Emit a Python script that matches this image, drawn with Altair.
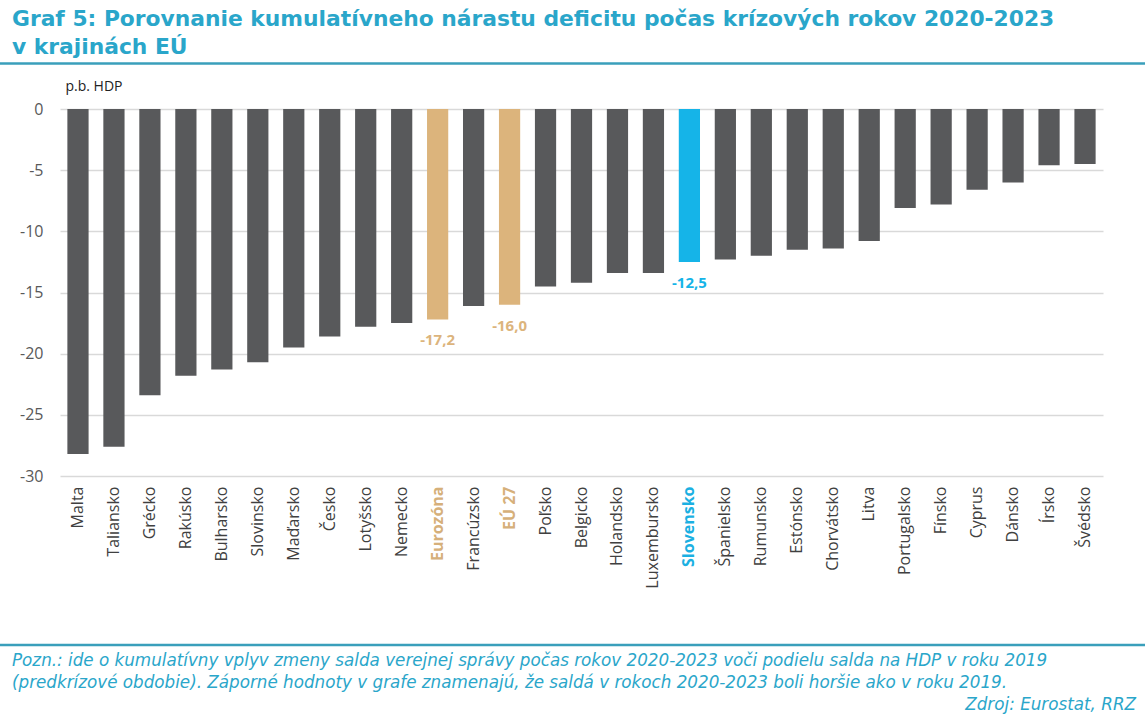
import altair as alt
import pandas as pd

countries = ["Malta", "Taliansko", "Grécko", "Rakúsko", "Bulharsko", "Slovinsko",
             "Maďarsko", "Česko", "Lotyšsko", "Nemecko", "Eurozóna", "Francúzsko",
             "EÚ 27", "Poľsko", "Belgicko", "Holandsko", "Luxembursko", "Slovensko",
             "Španielsko", "Rumunsko", "Estónsko", "Chorvátsko", "Litva", "Portugalsko",
             "Fínsko", "Cyprus", "Dánsko", "Írsko", "Švédsko"]
values = [-28.2, -27.6, -23.4, -21.8, -21.3, -20.7,
          -19.5, -18.6, -17.8, -17.5, -17.2, -16.1,
          -16.0, -14.5, -14.2, -13.4, -13.4, -12.5,
          -12.3, -12.0, -11.5, -11.4, -10.8, -8.1,
          -7.8, -6.6, -6.0, -4.6, -4.5]
groups = ["base"] * 10 + ["eu", "base", "eu"] + ["base"] * 4 + ["sk"] + ["base"] * 11
y_ticks = [0, -5, -10, -15, -20, -25, -30]

title_lines = ["Graf 5: Porovnanie kumulatívneho nárastu deficitu počas krízových rokov 2020-2023",
               "v krajinách EÚ"]
note_lines = ["Pozn.: ide o kumulatívny vplyv zmeny salda verejnej správy počas rokov 2020-2023 voči podielu salda na HDP v roku 2019",
              "(predkrízové obdobie). Záporné hodnoty v grafe znamenajú, že saldá v rokoch 2020-2023 boli horšie ako v roku 2019."]
source_text = "Zdroj: Eurostat, RRZ"
unit_text = "p.b. HDP"

df = pd.DataFrame({"krajina": countries, "hodnota": values, "skupina": groups})
df["popis"] = [f"{v:.1f}".replace(".", ",") for v in values]

W, H = 1043, 367
L, T = 60, 109
TEAL = "#2aa6ca"
RULE = "#3a9fbb"

color_scale = alt.Scale(domain=["base", "eu", "sk"], range=["#58595b", "#dcb47c", "#15b4e8"])

color_expr = ("datum.value == 'Slovensko' ? '#1bb0e2' : "
              "(datum.value == 'Eurozóna' || datum.value == 'EÚ 27') ? '#d6b07a' : '#404040'")
weight_expr = ("(datum.value == 'Slovensko' || datum.value == 'Eurozóna' || datum.value == 'EÚ 27') "
               "? 'bold' : 'normal'")

x_enc = alt.X("krajina:N", sort=countries,
              scale=alt.Scale(paddingInner=0.41, paddingOuter=0.205),
              axis=alt.Axis(title=None, labelAngle=-90, labelFont="Open Sans", labelFontSize=16,
                            labelColor={"expr": color_expr}, labelFontWeight={"expr": weight_expr},
                            labelPadding=10, ticks=False, domain=False, grid=False,
                            labelAlign="right", labelBaseline="middle"))
y_enc = alt.Y("hodnota:Q", scale=alt.Scale(domain=[-30, 0], nice=False),
              axis=alt.Axis(values=y_ticks, labelExpr="toString(datum.value)",
                            title=unit_text, titleAngle=0, titleX=5, titleY=-19,
                            titleAlign="left", titleBaseline="alphabetic", titleFont="Open Sans",
                            titleFontSize=14, titleFontWeight="normal", titleColor="#222222",
                            labelFont="Open Sans", labelFontSize=16, labelColor="#595959",
                            labelPadding=17, ticks=False, domain=False,
                            gridColor="#d9d9d9", gridWidth=1.5))

base = alt.Chart(df)
bars = base.mark_bar().encode(
    x=x_enc, y=y_enc,
    color=alt.Color("skupina:N", scale=color_scale, legend=None),
)
labels = base.transform_filter("datum.skupina != 'base'").mark_text(
    font="Open Sans", fontWeight="bold", fontSize=15, baseline="middle", dy=21
).encode(
    x=alt.X("krajina:N", sort=countries),
    y=alt.Y("hodnota:Q"),
    text="popis:N",
    color=alt.Color("skupina:N", scale=color_scale, legend=None),
)


def txt(s, x, y, size, weight="normal", style="normal", align="left", color=TEAL, font="DejaVu Sans"):
    return alt.Chart(pd.DataFrame({"t": [s]})).mark_text(
        align=align, baseline="alphabetic", font=font, fontSize=size,
        fontWeight=weight, fontStyle=style, color=color
    ).encode(x=alt.value(x - L), y=alt.value(y - T), text="t:N")


def hrule(y):
    return alt.Chart(pd.DataFrame({"a": [0]})).mark_rule(color=RULE, strokeWidth=2.5).encode(
        x=alt.value(-L), x2=alt.value(1145 - L), y=alt.value(y - T))


layers = [
    bars, labels,
    txt(title_lines[0], 12, 26, 21.8, weight="bold"),
    txt(title_lines[1], 12, 54, 21.8, weight="bold"),
    hrule(63.5),
    hrule(645),
    txt(note_lines[0], 12, 666, 16.75, style="italic"),
    txt(note_lines[1], 12, 688, 16.75, style="italic"),
    txt(source_text, 1136, 710, 16.75, style="italic", align="right"),
]

chart = alt.layer(*layers).properties(
    width=W, height=H,
    padding={"left": L, "top": T, "right": 1145 - L - W, "bottom": 717 - T - H},
    autosize=alt.AutoSizeParams(type="none"),
).configure_view(stroke=None)

chart.save("out.html", embed_options={"renderer": "svg", "actions": False})
